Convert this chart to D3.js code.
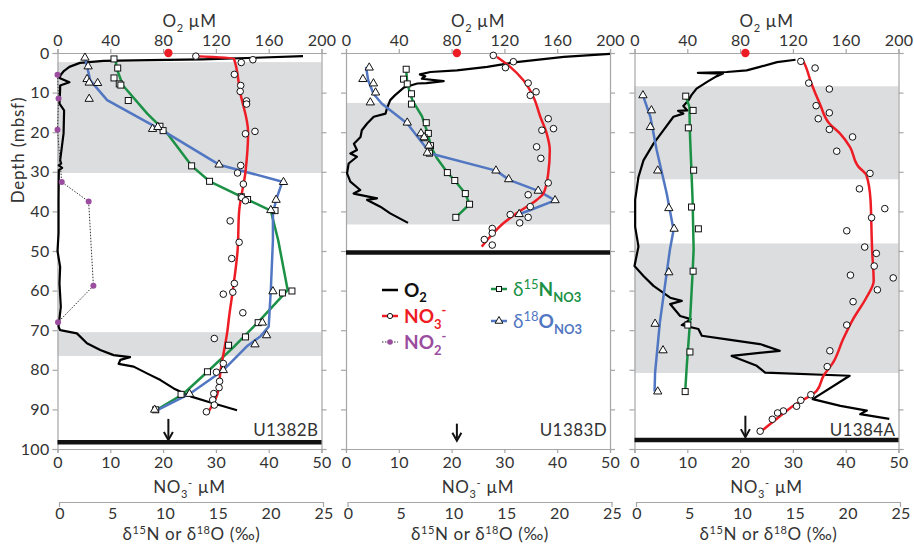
<!DOCTYPE html>
<html>
<head>
<meta charset="utf-8">
<script src="https://cdn.jsdelivr.net/npm/d3@7"></script>
<style>
body { margin: 0; background: #fff; }
text { font-family: Lato, "Open Sans", sans-serif; fill: #333; }
</style>
</head>
<body>
<svg id="chart" width="914" height="544"></svg>
<script>
// ---- data: [depth (mbsf), value] ----
var siteNames = ["U1382B", "U1383D", "U1384A"];
var depthTicks = [0, 10, 20, 30, 40, 50, 60, 70, 80, 90, 100];
var o2Ticks = [0, 40, 80, 120, 160, 200];
var no3Ticks = [0, 10, 20, 30, 40, 50];
var deltaTicks = [0, 5, 10, 15, 20, 25];

var bottomWaterO2 = 84;      // red dot on the O2 axis
var bottomWaterNO3 = 21;     // arrow
var arrowDepths = [[92.4, 97.7], [93.6, 97.9], [91.6, 97.0]];
var holeBottom = [98.3, 50.4, 97.7];

var bands1382 = [[2.3, 30.3], [70.5, 76.5]];
var bands1383 = [[12.6, 43.3]];
var bands1384 = [[8.4, 31.9], [48.1, 80.8]];

var o2_1382 = [[0.8,186],[1.2,150],[1.6,110],[1.8,70],[2.0,35],[2.5,17],[3.5,9],[4.5,5],[5.5,2.5],[6.3,1.5],[7.4,9],[8.2,2],[9.0,2],[12.8,1.5],[14.5,5],[20.3,4.6],[27.1,2],[27.9,2.8],[28.4,1],[29,3.5],[29.6,1],[37.1,0.8],[45.5,0.8],[50,0],[54,2],[58.2,1.5],[64.1,2.5],[69.1,0.8],[70,2],[70.8,14.7],[73.3,22.3],[75,32.4],[76.3,42.5],[76.8,55],[77.5,47.6],[78.5,46.3],[79.2,57.7],[80.9,67.8],[82.6,78],[84.7,88],[86.7,100.8],[88,113.4],[90.2,136]];
var no3Pts_1382 = [[0.8,26.2],[1.7,37.0],[2.4,34.8],[5.4,33.5],[8.2,34.7],[9.7,34.6],[12.1,35.8],[12.9,35.8],[19.8,37.4],[20.4,35.6],[28.4,34.7],[30.3,34.1],[33.1,35.2],[36.5,34.9],[37.3,35.6],[42.4,32.7],[47.8,34.4],[51.9,33.0],[58.2,33.5],[60.4,33.2],[60.9,31.4],[65.6,35.1],[72.1,29.7],[78.4,31.4],[80.6,30.1],[82.9,30.7],[84.5,30.6],[86.0,29.6],[87.6,29.4],[88.9,29.7],[90.6,28.2]];
var no3Fit_1382 = [[0.8,26.2],[1.4,33.4],[10,34.6],[20,36.1],[30,35.6],[40,34.4],[50,34.1],[60,33.2],[66.6,32.5],[70,32.2],[80,30.9],[86,30.3],[89,29.3],[91,28.4]];
var no2_1382 = [[5.5,0],[11.5,0.2],[19.4,0],[32.6,0.8],[37.5,5.9],[58.8,6.8],[68,0.1]];
var d15NPts_1382 = [[1.5,5.35],[3.8,5.7],[6.3,5.35],[7.8,5.85],[8.1,6.0],[12.0,6.7],[18.5,9.7],[19.6,10.0],[28.5,12.7],[32.4,14.4],[36.3,17.4],[37.0,18.0],[39.8,20.6],[60.6,21.3],[60.1,22.2],[68.1,19.0],[71.7,17.8],[73.8,16.2],[80.5,14.2],[86.2,11.7],[90.1,9.3]];
var d15NLine_1382 = [[1.7,5.5],[3.9,5.6],[8.2,6.2],[15.3,8.5],[20.3,10.4],[28.5,12.7],[32.4,14.4],[36.3,17.4],[39.8,20.2],[47.3,20.9],[59.9,21.8],[67.4,19.2],[74.2,16.7],[80.5,14.2],[86.1,11.9],[90.1,9.4]];
var d18OPts_1382 = [[1.2,2.6],[3.4,2.9],[6.6,2.8],[7.5,3.0],[7.6,3.8],[11.6,3.0],[19.2,9.0],[18.7,9.5],[28.2,15.3],[32.6,21.4],[37.1,20.7],[39.7,20.2],[60.2,20.4],[68.1,19.4],[71.3,19.8],[73.6,18.7],[80.1,15.7],[86.1,12.5],[90.1,9.2]];
var d18OLine_1382 = [[1.2,2.6],[3.4,2.8],[6.9,3.1],[11.9,4.7],[20.3,10.4],[28.2,15.3],[32.5,21.3],[37.1,20.7],[40.5,20.4],[47.3,20.4],[59.9,20.2],[69.1,20.0],[71.6,19.2],[73.9,18.0],[80.1,15.7],[86.1,12.5],[90.1,9.5]];

var o2_1383 = [[0.2,200],[1.0,165],[2.3,129],[3.5,107],[4.4,84],[4.8,64],[5.4,56],[5.9,60],[6.5,57.5],[7.1,74],[7.6,61],[7.7,54],[8.7,44],[10.7,37],[11.9,33.5],[14,31],[15.3,30],[16.1,21],[17.8,16],[19.5,12],[21.2,11],[22.9,6],[24.5,8.3],[25.4,3.3],[26.2,8.3],[27.9,2],[30.4,0.8],[32.5,3.3],[34.6,10.8],[35.5,5.8],[36.7,23.5],[37.1,16],[38.8,26],[40.5,33.5],[42.9,47]];
var no3Pts_1383 = [[0.6,27.9],[2.2,31.7],[3.7,30.2],[7.6,34.5],[9.8,36.0],[10.7,34.9],[16.6,38.3],[19.1,39.3],[19.5,37.1],[23.7,36.1],[26.6,36.9],[32.8,38.3],[35.8,34.5],[38.8,34.9],[40.8,31.1],[41.5,34.5],[42.9,32.9],[44.3,27.7],[45.5,27.7],[47.1,26.2],[48.5,27.7]];
var no3Fit_1383 = [[1.0,28.6],[3.5,31.1],[6.9,33.6],[11.1,35.5],[16.1,36.8],[20.3,38.0],[24.5,38.6],[30.4,38.3],[35.5,37.4],[37.1,36.1],[40.5,32.3],[43.0,29.8],[46.4,27.3],[48.9,25.7]];
var d15NPts_1383 = [[4.1,5.7],[6.6,5.45],[7.8,5.8],[10.3,6.2],[12.9,6.2],[17.6,7.6],[20.3,7.8],[21.4,7.4],[23.4,8.0],[25.3,7.9],[30.2,9.6],[32.2,10.3],[35.5,11.3],[38.2,11.7],[41.5,10.4]];
var d15NLine_1383 = [[4.1,5.7],[7.8,5.8],[12,6.3],[16,7.2],[20,7.7],[24,8.1],[26.5,8.6],[30.2,9.6],[32.2,10.3],[35.5,11.3],[38.2,11.7],[41.5,10.4]];
var d18OPts_1383 = [[3.7,2.2],[6.6,1.6],[7.7,2.6],[10.0,2.8],[12.5,2.3],[17.6,5.8],[20.3,7.1],[21.3,7.4],[23.4,7.85],[25.2,7.7],[29.7,14.2],[31.9,15.4],[34.8,18.2],[37.2,19.8],[40.7,16.4]];
var d18OLine_1383 = [[3.5,1.9],[6.9,2.1],[10.3,2.6],[12.8,3.4],[17.8,5.8],[25.4,8.0],[29.7,14.2],[32.1,15.5],[34.8,18.2],[37.2,19.8],[39.7,17.4],[40.7,16.4]];

var o2_1384 = [[1.7,122],[2.3,108],[3.5,95],[4.4,85],[4.8,70],[5.0,48],[5.2,67],[5.9,62],[7.3,55],[9.0,47],[10.7,43],[11.9,41],[13.4,37],[14.5,40],[14.6,33],[15.3,37],[16.1,29.5],[19.5,22],[22.9,14.4],[27.1,6.8],[31.3,3],[37.1,0.5],[43.9,0.5],[48.9,3],[53.8,0],[56.3,6.8],[58.8,14.4],[61.8,27],[62.6,35.8],[63.4,27],[66.4,34.6],[67.2,42.6],[68.7,35.8],[69.7,48.4],[71.4,51],[72.3,70],[73.5,95],[75.2,110],[76.5,73.6],[79,92.6],[80.7,99],[81.5,163],[87.4,135],[89.1,156],[90.3,176],[91.2,171],[92.4,193]];
var no3Pts_1384 = [[2.1,31.5],[3.8,34.2],[7.6,33.0],[9.1,36.9],[13.3,34.4],[15.1,36.9],[16.6,34.8],[19.3,36.9],[21.2,41.3],[24.8,38.3],[30.4,44.6],[34.3,42.6],[39.3,47.4],[41.6,44.9],[44.9,40.2],[49.0,43.6],[50.6,45.8],[53.8,45.4],[56.1,40.9],[56.8,49.0],[59.8,46.0],[62.8,41.4],[68.7,40.2],[75.2,37.0],[79.2,36.5],[86.3,33.4],[87.7,31.5],[89.2,30.7],[90.4,28.2],[90.9,27.1],[92.5,26.1],[95.5,23.8]];
var no3Fit_1384 = [[1.7,31.8],[2.7,32.2],[7.7,33.5],[12.8,35.1],[17.8,36.9],[20.3,38.9],[23.7,40.8],[28.7,42.4],[30.8,43.9],[37.1,44.7],[45.5,44.9],[49.7,45.0],[57.6,45.3],[61.8,43.9],[67.2,41.4],[72.3,39.5],[78.2,37.6],[81.5,35.8],[85.3,34.5],[89.1,30.1],[92.4,26.9],[95.6,23.9]];
var d15NPts_1384 = [[10.9,4.85],[14.5,5.55],[18.9,5.1],[29.6,5.6],[38.9,5.4],[44.4,6.05],[55.1,5.55],[68.7,5.05],[75.5,5.25],[85.5,4.8]];
var d15NLine_1384 = [[10.9,4.85],[13.6,5.2],[20.3,5.25],[37.1,5.5],[49.6,5.6],[55.5,5.5],[68.1,5.25],[79,4.95],[85.5,4.8]];
var d18OPts_1384 = [[10.7,0.8],[14.5,1.6],[18.7,1.5],[29.7,2.2],[39.2,3.25],[44.4,3.75],[55.4,3.25],[68.4,1.95],[75.1,2.7],[85.5,2.2]];
var d18OLine_1384 = [[10.7,0.8],[16.1,1.5],[24.5,2.1],[35.5,3.05],[44.7,3.7],[49.7,3.35],[55.5,3.05],[68.1,2.4],[80.7,1.95],[85.5,1.9]];

// table built from the arrays above
var panels = [
  {name: siteNames[0], bands: bands1382, o2: o2_1382, no3: no3Pts_1382, no3Fit: no3Fit_1382, no2: no2_1382,
   d15N: d15NPts_1382, d15NLine: d15NLine_1382, d18O: d18OPts_1382, d18OLine: d18OLine_1382},
  {name: siteNames[1], bands: bands1383, o2: o2_1383, no3: no3Pts_1383, no3Fit: no3Fit_1383, no2: null,
   d15N: d15NPts_1383, d15NLine: d15NLine_1383, d18O: d18OPts_1383, d18OLine: d18OLine_1383},
  {name: siteNames[2], bands: bands1384, o2: o2_1384, no3: no3Pts_1384, no3Fit: no3Fit_1384, no2: null,
   d15N: d15NPts_1384, d15NLine: d15NLine_1384, d18O: d18OPts_1384, d18OLine: d18OLine_1384}
];

// ---- layout ----
var panelLeft = [57.5, 346, 634.5];
var panelW = 264;
var plotTop = 53, plotBottom = 449;
var RED = "#ee1c24", GREEN = "#1b9146", BLUE = "#5277c2", PURPLE = "#9a4d9e", GRAY = "#a6a6a6";

var svg = d3.select("#chart");
var y = d3.scaleLinear().domain([0, 100]).range([plotTop, plotBottom]);

function styleAxis(g) {
  g.selectAll(".domain").attr("stroke", GRAY).attr("stroke-width", 1.2);
  g.selectAll(".tick line").attr("stroke", GRAY).attr("stroke-width", 1.2);
  g.selectAll(".tick text").style("font-size", "16px").style("letter-spacing", "0.3px").attr("fill", "#333");
}

function titleText(g, x, yb) {
  return g.append("text").attr("x", x).attr("y", yb).attr("text-anchor", "middle")
    .style("font-size", "17px").style("letter-spacing", "0.6px");
}

panels.forEach(function (p, i) {
  var x0 = panelLeft[i];
  var xO2 = d3.scaleLinear().domain([0, 200]).range([x0, x0 + panelW]);
  var xN = d3.scaleLinear().domain([0, 50]).range([x0, x0 + panelW]);
  var xD = d3.scaleLinear().domain([0, 25]).range([x0, x0 + panelW]);
  var xD2 = d3.scaleLinear().domain([0, 25]).range([x0 + 2, x0 + panelW + 2]);
  var g = svg.append("g");

  // shaded intervals
  g.selectAll("rect.band").data(p.bands).enter().append("rect")
    .attr("x", x0).attr("width", panelW)
    .attr("y", function (d) { return y(d[0]); })
    .attr("height", function (d) { return y(d[1]) - y(d[0]); })
    .attr("fill", "#dcdddf");

  // axes
  var gt = g.append("g").attr("transform", "translate(0," + plotTop + ")")
    .call(d3.axisTop(xO2).tickValues(o2Ticks).tickSize(4).tickPadding(3));
  styleAxis(gt);
  var gb = g.append("g").attr("transform", "translate(0," + plotBottom + ")")
    .call(d3.axisBottom(xN).tickValues(no3Ticks).tickSize(4).tickPadding(4));
  styleAxis(gb);
  var gl = g.append("g").attr("transform", "translate(" + x0 + ",0)")
    .call(d3.axisLeft(y).tickValues(depthTicks).tickSize(5).tickPadding(3)
      .tickFormat(i === 0 ? d3.format("d") : ""));
  styleAxis(gl);
  var gr = g.append("g").attr("transform", "translate(" + (x0 + panelW) + ",0)")
    .call(d3.axisRight(y).tickValues(depthTicks).tickSize(5).tickFormat(""));
  styleAxis(gr);
  var gd = g.append("g").attr("transform", "translate(0,502)")
    .call(d3.axisBottom(xD2).tickValues(deltaTicks).tickSize(0).tickPadding(6));
  styleAxis(gd);
  g.selectAll("line.dend").data([0, 25]).enter().append("line")
    .attr("x1", function (d) { return xD2(d); }).attr("x2", function (d) { return xD2(d); })
    .attr("y1", 502).attr("y2", 507).attr("stroke", GRAY).attr("stroke-width", 1.2);

  // axis titles
  var cx = x0 + panelW / 2;
  var t1 = titleText(g, cx, 27);
  t1.append("tspan").text("O");
  t1.append("tspan").attr("dy", 5).style("font-size", "11px").text("2");
  t1.append("tspan").attr("dy", -5).text(" \u00b5M");
  var t2 = titleText(g, cx, 493);
  t2.append("tspan").text("NO");
  t2.append("tspan").attr("dy", 5).style("font-size", "11px").text("3");
  t2.append("tspan").attr("dy", -11).style("font-size", "11px").text("-");
  t2.append("tspan").attr("dy", 6).text(" \u00b5M");
  var t3 = titleText(g, cx + 2, 540);
  t3.append("tspan").text("\u03b4");
  t3.append("tspan").attr("dy", -6).style("font-size", "11px").text("15");
  t3.append("tspan").attr("dy", 6).text("N or \u03b4");
  t3.append("tspan").attr("dy", -6).style("font-size", "11px").text("18");
  t3.append("tspan").attr("dy", 6).text("O (\u2030)");

  // hole bottom
  g.append("line")
    .attr("x1", x0).attr("x2", x0 + panelW)
    .attr("y1", y(holeBottom[i])).attr("y2", y(holeBottom[i]))
    .attr("stroke", "#111").attr("stroke-width", 4.5);

  var line = function (sx) {
    return d3.line().x(function (d) { return sx(d[1]); }).y(function (d) { return y(d[0]); });
  };

  // O2 profile
  g.append("path").datum(p.o2).attr("d", line(xO2))
    .attr("fill", "none").attr("stroke", "#000").attr("stroke-width", 2.2).attr("stroke-linejoin", "round");

  // nitrite
  if (p.no2) {
    g.append("path").datum(p.no2).attr("d", line(xN))
      .attr("fill", "none").attr("stroke", "#333").attr("stroke-width", 1).attr("stroke-dasharray", "1.5,1.5");
    g.selectAll("circle.no2").data(p.no2).enter().append("circle")
      .attr("cx", function (d) { return xN(d[1]); }).attr("cy", function (d) { return y(d[0]); })
      .attr("r", 3).attr("fill", PURPLE);
  }

  // isotope and nitrate lines
  g.append("path").datum(p.d15NLine).attr("d", line(xD))
    .attr("fill", "none").attr("stroke", GREEN).attr("stroke-width", 2.5).attr("stroke-linejoin", "round");
  g.append("path").datum(p.d18OLine).attr("d", line(xD))
    .attr("fill", "none").attr("stroke", BLUE).attr("stroke-width", 2.5).attr("stroke-linejoin", "round");
  g.append("path").datum(p.no3Fit).attr("d", d3.line().curve(d3.curveMonotoneY)
      .x(function (d) { return xN(d[1]); }).y(function (d) { return y(d[0]); }))
    .attr("fill", "none").attr("stroke", RED).attr("stroke-width", 2.5);

  // markers
  g.selectAll("rect.sq").data(p.d15N).enter().append("rect")
    .attr("x", function (d) { return xD(d[1]) - 3; }).attr("y", function (d) { return y(d[0]) - 3; })
    .attr("width", 6).attr("height", 6)
    .attr("fill", "#fff").attr("stroke", "#111").attr("stroke-width", 1);
  g.selectAll("path.tri").data(p.d18O).enter().append("path")
    .attr("transform", function (d) { return "translate(" + xD(d[1]) + "," + y(d[0]) + ")"; })
    .attr("d", d3.symbol().type(d3.symbolTriangle).size(30))
    .attr("fill", "#fff").attr("stroke", "#111").attr("stroke-width", 1);
  g.selectAll("circle.no3").data(p.no3).enter().append("circle")
    .attr("cx", function (d) { return xN(d[1]); }).attr("cy", function (d) { return y(d[0]); })
    .attr("r", 3.3).attr("fill", "#fff").attr("stroke", "#111").attr("stroke-width", 1);

  // bottom water values
  g.append("circle").attr("cx", xO2(bottomWaterO2)).attr("cy", y(0)).attr("r", 4.2).attr("fill", RED);
  var ax = xN(bottomWaterNO3);
  g.append("line").attr("x1", ax).attr("x2", ax)
    .attr("y1", y(arrowDepths[i][0])).attr("y2", y(arrowDepths[i][1]) - 2)
    .attr("stroke", "#111").attr("stroke-width", 2);
  g.append("path")
    .attr("d", "M" + (ax - 4.5) + "," + (y(arrowDepths[i][1]) - 8) + "L" + ax + "," + y(arrowDepths[i][1]) +
      "L" + (ax + 4.5) + "," + (y(arrowDepths[i][1]) - 8))
    .attr("fill", "none").attr("stroke", "#111").attr("stroke-width", 2);

  // site label
  g.append("text").attr("x", x0 + panelW - 3).attr("y", 436).attr("text-anchor", "end")
    .style("font-size", "17px").style("letter-spacing", "0.4px").text(p.name);
});

// depth title
svg.append("text").attr("transform", "translate(24,150) rotate(-90)")
  .attr("text-anchor", "middle").style("font-size", "17px").style("letter-spacing", "0.8px").text("Depth (mbsf)");

// ---- legend (in the middle panel) ----
var legend = svg.append("g");
function legendText(x, yb, color, parts) {
  var t = legend.append("text").attr("x", x).attr("y", yb).style("font-size", "19px")
    .style("font-weight", "bold").style("fill", color);
  parts.forEach(function (pt) {
    var s = t.append("tspan").text(pt[0]).style("fill", color);
    if (pt[1]) s.attr("dy", pt[1]);
    if (pt[2]) s.style("font-size", pt[2]);
    if (pt[3]) s.style("font-weight", pt[3]);
  });
}
legend.append("line").attr("x1", 382).attr("x2", 398).attr("y1", 290).attr("y2", 290).attr("stroke", "#000").attr("stroke-width", 2.5);
legendText(404, 297, "#111", [["O"], ["2", 5, "13px"]]);
legend.append("line").attr("x1", 382).attr("x2", 398).attr("y1", 316).attr("y2", 316).attr("stroke", RED).attr("stroke-width", 2.5);
legend.append("circle").attr("cx", 390).attr("cy", 316).attr("r", 2.6).attr("fill", "#fff").attr("stroke", "#111");
legendText(404, 323, RED, [["NO"], ["3", 6, "13px"], ["-", -14, "13px"]]);
legend.append("line").attr("x1", 382).attr("x2", 398).attr("y1", 342).attr("y2", 342).attr("stroke", "#333").attr("stroke-dasharray", "1.5,1.5");
legend.append("circle").attr("cx", 390).attr("cy", 342).attr("r", 2.8).attr("fill", PURPLE);
legendText(404, 349, PURPLE, [["NO"], ["2", 6, "13px"], ["-", -14, "13px"]]);

legend.append("line").attr("x1", 491).attr("x2", 507).attr("y1", 289).attr("y2", 289).attr("stroke", GREEN).attr("stroke-width", 2.5);
legend.append("rect").attr("x", 496.5).attr("y", 286.5).attr("width", 5).attr("height", 5).attr("fill", "#fff").attr("stroke", "#111");
legendText(513, 296, GREEN, [["\u03b4", null, null, "normal"], ["15", -7, "13px", "normal"], ["N", 7], ["NO3", 6, "13px"]]);
legend.append("line").attr("x1", 491).attr("x2", 507).attr("y1", 321).attr("y2", 321).attr("stroke", BLUE).attr("stroke-width", 2.5);
legend.append("path").attr("transform", "translate(499,321)").attr("d", d3.symbol().type(d3.symbolTriangle).size(26))
  .attr("fill", "#fff").attr("stroke", "#111");
legendText(513, 328, BLUE, [["\u03b4", null, null, "normal"], ["18", -7, "13px", "normal"], ["O", 7], ["NO3", 6, "13px"]]);
</script>
</body>
</html>
